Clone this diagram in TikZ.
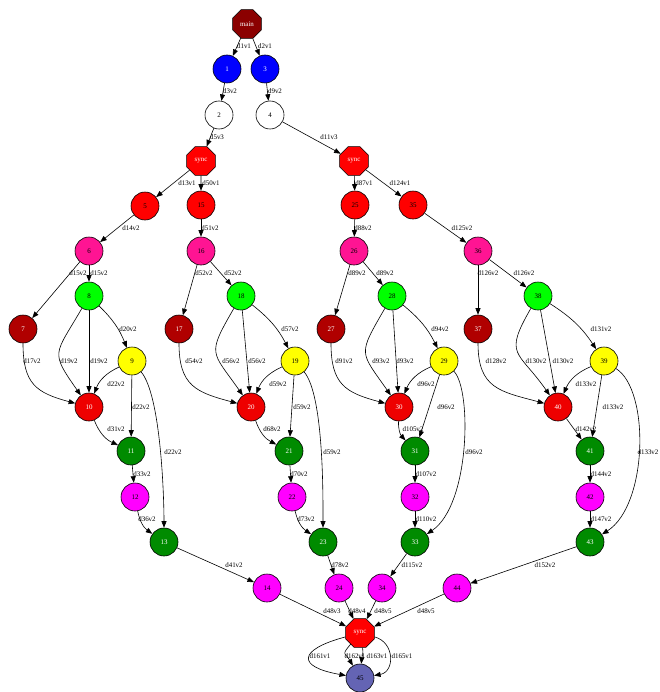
\documentclass[tikz,border=0pt]{standalone}
\usepackage{fontspec}
\setmainfont{Liberation Serif}
\usetikzlibrary{shapes.geometric,arrows.meta}

\definecolor{cMain}{HTML}{8B0000}
\definecolor{cBlue}{HTML}{0000FF}
\definecolor{cRed}{HTML}{FF0000}
\definecolor{cPink}{HTML}{FF1493}
\definecolor{cLime}{HTML}{00FF00}
\definecolor{cMaroon}{HTML}{B00000}
\definecolor{cYellow}{HTML}{FFFF00}
\definecolor{cRedTwo}{HTML}{EE0000}
\definecolor{cGreen}{HTML}{008B00}
\definecolor{cMagenta}{HTML}{FF00FF}
\definecolor{cSlate}{HTML}{6464B4}

\begin{document}
\begin{tikzpicture}[x=1bp, y=1bp,
	vtx/.style={circle, draw, line width=0.6pt, minimum size=28bp, inner sep=0pt, font=\fontsize{7}{8}\selectfont},
	oct/.style={regular polygon, regular polygon sides=8, draw, line width=0.6pt, minimum size=31bp, inner sep=0pt, fill=cRed, text=white, font=\fontsize{7}{8}\selectfont},
	flow/.style={-{Triangle[length=6.5bp,width=5bp]}, line width=0.6pt},
	lbl/.style={inner sep=0pt, font=\fontsize{7}{8}\selectfont}]
	\useasboundingbox (0,0) rectangle (660,-692);

	% entry and sync points
	\node[oct, fill=cMain] (main) at (247,-24) {main};
	\node[oct] (s1) at (201,-161) {sync};
	\node[oct] (s2) at (354,-161) {sync};
	\node[oct] (s3) at (360,-633) {sync};

	% task nodes
	\foreach \n/\x/\y in {1/227/69, 3/265/69}
		\node[vtx, fill=cBlue, text=white] (n\n) at (\x,-\y) {\n};
	\foreach \n/\x/\y in {2/219/115, 4/270/115}
		\node[vtx, fill=white] (n\n) at (\x,-\y) {\n};
	\foreach \n/\x/\y in {5/145/206, 15/201/205, 25/355/205, 35/413/205}
		\node[vtx, fill=cRed] (n\n) at (\x,-\y) {\n};
	\foreach \n/\x/\y in {6/89/251, 16/201/251, 26/354/251, 36/478/251}
		\node[vtx, fill=cPink] (n\n) at (\x,-\y) {\n};
	\foreach \n/\x/\y in {8/89/296, 18/241/296, 28/392/296, 38/538/296}
		\node[vtx, fill=cLime] (n\n) at (\x,-\y) {\n};
	\foreach \n/\x/\y in {7/23/329, 17/179/329, 27/331/329, 37/478/329}
		\node[vtx, fill=cMaroon, text=white] (n\n) at (\x,-\y) {\n};
	\foreach \n/\x/\y in {9/132/361, 19/295/361, 29/444/361, 39/604/361}
		\node[vtx, fill=cYellow] (n\n) at (\x,-\y) {\n};
	\foreach \n/\x/\y in {10/89/407, 20/251/407, 30/399/407, 40/558/407}
		\node[vtx, fill=cRedTwo, text=white] (n\n) at (\x,-\y) {\n};
	\foreach \n/\x/\y in {11/131/451, 21/289/451, 31/415/451, 41/590/451, 13/164/542, 23/323/542, 33/415/542, 43/590/542}
		\node[vtx, fill=cGreen, text=white] (n\n) at (\x,-\y) {\n};
	\foreach \n/\x/\y in {12/135/497, 22/292/497, 32/415/497, 42/590/497, 14/267/588, 24/339/588, 34/382/588, 44/457/588}
		\node[vtx, fill=cMagenta] (n\n) at (\x,-\y) {\n};
	\node[vtx, fill=cSlate] (n45) at (360,-678) {45};

	% straight dependencies
	\foreach \a/\b/\t/\x/\y in {main/n1/d1v1/244/46, main/n3/d2v1/265/46, n1/n2/d3v2/230/91, n3/n4/d9v2/275/91,
		n2/s1/d5v3/217/137, n4/s2/d11v3/329/137, s1/n5/d13v1/187/183, s1/n15/d50v1/211/183,
		s2/n25/d87v1/364/183, s2/n35/d124v1/400/183, n5/n6/d14v2/131/228, n15/n16/d51v2/210/228,
		n25/n26/d88v2/363/228, n35/n36/d125v2/462/228, n6/n7/d15v2/78/273, n6/n8/d15v2/99/273,
		n16/n17/d52v2/204/273, n16/n18/d52v2/233/273, n26/n27/d89v2/357/273, n26/n28/d89v2/385/273,
		n36/n37/d126v2/488/273, n36/n38/d126v2/524/273, n8/n10/d19v2/99/361, n18/n20/d56v2/257/361,
		n28/n30/d93v2/405/361, n38/n40/d130v2/563/361, n9/n11/d22v2/141/407, n19/n21/d59v2/302/407,
		n29/n31/d96v2/446/407, n39/n41/d133v2/613/407, n40/n41/d142v2/586/429, n11/n12/d33v2/142/474,
		n21/n22/d70v2/299/474, n31/n32/d107v2/426/474, n41/n42/d144v2/601/474, n32/n33/d110v2/426/519,
		n42/n43/d147v2/601/519, n13/n14/d41v2/234/565, n23/n24/d78v2/340/565, n33/n34/d115v2/412/565,
		n43/n44/d152v2/545/565, n14/s3/d48v3/332/611, n24/s3/d48v4/357/611, n34/s3/d48v5/383/611,
		n44/s3/d48v5/426/611}{
		\draw[flow] (\a) -- (\b);
		\node[lbl] (l-\a-\b) at (\x,-\y) {\t};
	}

	% slightly bent ones
	\foreach \a/\b/\t/\x/\y in {n8/n9/d20v2/128/329, n18/n19/d57v2/290/329, n28/n29/d94v2/440/329, n38/n39/d131v2/601/329}{
		\draw[flow] (\a) to[bend left=12] (\b);
		\node[lbl] (lb-\a-\b) at (\x,-\y) {\t};
	}
	\foreach \a/\b/\t/\x/\y in {n9/n10/d22v2/116/384, n19/n20/d59v2/278/384, n29/n30/d96v2/426/384, n39/n40/d133v2/586/384,
		n10/n11/d31v2/116/429, n20/n21/d68v2/272/429, n30/n31/d105v2/413/429, n12/n13/d36v2/147/519, n22/n23/d73v2/306/519}{
		\draw[flow] (\a) to[bend right=22] (\b);
		\node[lbl] (lb-\a-\b) at (\x,-\y) {\t};
	}

	% second edge on the left side
	\foreach \a/\b/\t/\x/\y in {n8/n10/d19v2/69/361, n18/n20/d56v2/231/361, n28/n30/d93v2/381/361, n38/n40/d130v2/536/361}{
		\draw[flow] (\a) to[out=-120, in=125, looseness=1.6] (\b);
		\node[lbl] (lc-\a-\b) at (\x,-\y) {\t};
	}
	\foreach \a/\b/\t/\x/\y in {n7/n10/d17v2/32/361, n17/n20/d54v2/194/361, n27/n30/d91v2/344/361, n37/n40/d128v2/496/361}{
		\draw[flow] (\a) to[out=-90, in=165, looseness=1.3] (\b);
		\node[lbl] (lc-\a-\b) at (\x,-\y) {\t};
	}

	% long jumps
	\draw[flow] (n9) to[out=-50, in=90, looseness=0.5] (n13);
	\node[lbl] (ll-9) at (173,-452) {d22v2};
	\draw[flow] (n19) to[out=-50, in=90, looseness=0.5] (n23);
	\node[lbl] (ll-19) at (332,-452) {d59v2};
	\draw[flow] (n29) .. controls (472,-390) and (470,-505) .. (n33);
	\node[lbl] (ll-29) at (474,-452) {d96v2};
	\draw[flow] (n39) .. controls (650,-390) and (648,-505) .. (n43);
	\node[lbl] (ll-39) at (648,-452) {d133v2};

	% final join
	\draw[flow] (s3) to[out=195, in=170, looseness=3.3] (n45);
	\node[lbl] (lf-1) at (320,-656) {d161v1};
	\draw[flow] (s3) to[out=-130, in=120, looseness=1.8] (n45);
	\node[lbl] (lf-2) at (355,-656) {d162v1};
	\draw[flow] (s3) to[out=-80, in=85] (n45);
	\node[lbl] (lf-3) at (377,-656) {d163v1};
	\draw[flow] (s3) to[out=-15, in=10, looseness=1.4] (n45);
	\node[lbl] (lf-4) at (402,-656) {d165v1};
\end{tikzpicture}
\end{document}
